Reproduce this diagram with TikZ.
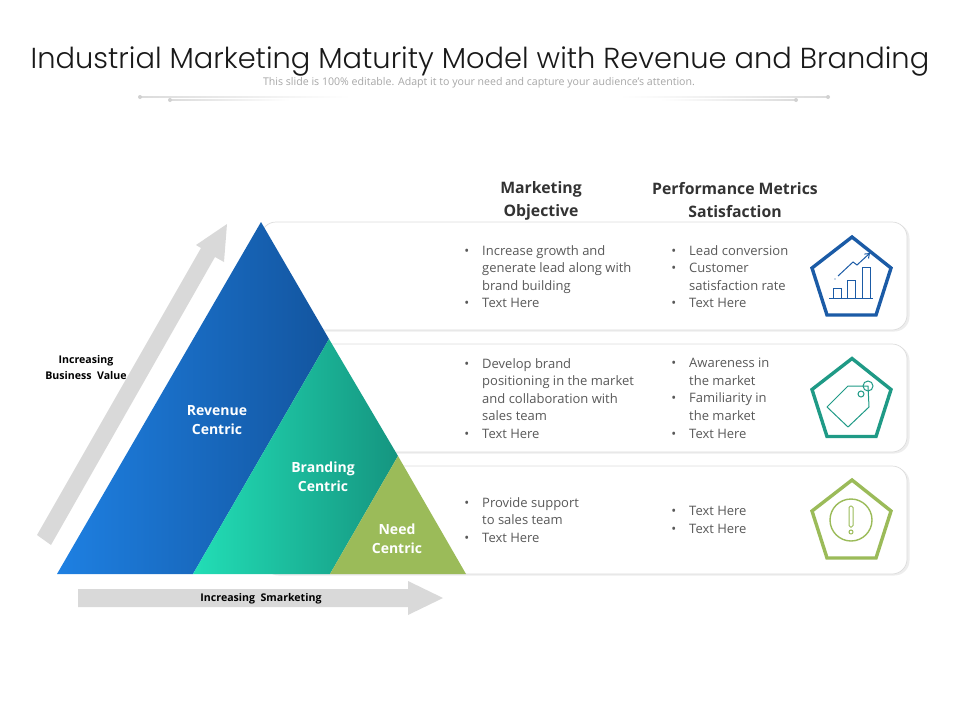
\documentclass[tikz,border=0pt]{standalone}
\usepackage{fontspec}
\setmainfont{Open Sans}
\newfontfamily\titlefont{Poppins Light}
\usetikzlibrary{shadows,arrows.meta}
\definecolor{panelline}{HTML}{DCDCDC}
\definecolor{blockgrey}{HTML}{D9D9D9}
\definecolor{bodygrey}{HTML}{595959}
\definecolor{blueL}{HTML}{1E80E2}
\definecolor{blueR}{HTML}{13559F}
\definecolor{greenL}{HTML}{22DEB6}
\definecolor{greenR}{HTML}{159580}
\definecolor{olive}{HTML}{9BBB59}
\definecolor{iconblue}{HTML}{1B5BA6}
\definecolor{icongreen}{HTML}{1F9A86}
\newcommand{\bl}{\llap{\textbullet\hspace{13pt}}}
\tikzset{
  panel/.style={draw=panelline,fill=white,line width=0.7pt,rounded corners=15pt,
    general shadow={fill=black,opacity=0.07,shadow xshift=2.5pt,shadow yshift=-1.5pt}},
  head/.style={align=center,text=black!80,inner sep=0pt,font=\fontsize{15.8}{23}\selectfont\bfseries},
  listtxt/.style={anchor=north west,align=left,text=bodygrey,inner sep=0pt,font=\fontsize{13}{17.6}\selectfont},
  tier/.style={align=center,text=white,inner sep=0pt,font=\fontsize{14}{19}\selectfont\bfseries},
  side/.style={align=center,text=black,inner sep=0pt,font=\fontsize{10.6}{16}\selectfont\bfseries},
  penta/.style={line width=3.4pt,miter limit=10},
  icon/.style={line width=1pt}
}
\begin{document}
\begin{tikzpicture}[x=1pt,y=-1pt]
\useasboundingbox (0,0) rectangle (960,720);

\node[inner sep=0pt,font=\titlefont\fontsize{28.9}{34}\selectfont,text=black!90] (title) at (480,62)
  {Industrial Marketing Maturity Model with Revenue and Branding};
\node[inner sep=0pt,text=black!35,font=\fontsize{10.6}{13}\selectfont] (subtitle) at (479,82.5)
  {This slide is 100\% editable. Adapt it to your need and capture your audience's attention.};

\shade[left color=black!14,right color=white] (140,96.6) rectangle (350,97.4);
\shade[left color=white,right color=black!14] (620,96.6) rectangle (828,97.4);
\shade[left color=black!14,right color=white] (170,99.6) rectangle (290,100.4);
\shade[left color=white,right color=black!14] (660,99.6) rectangle (796,100.4);
\fill[black!18] (140,97) circle (2pt) (828,97) circle (2pt) (170,100) circle (2pt) (796,100) circle (2pt);

\node[head] (obj) at (541,200.5) {Marketing\\Objective};
\node[head] (metric) at (735,200) {Performance Metrics\\Satisfaction};

\path[panel] (261,222) rectangle (907,330);
\path[panel] (261,344) rectangle (907,452);
\path[panel] (261,466) rectangle (907,574);

\shade[left color=blueL,right color=blueR] (57,574) -- (261,222) -- (329,339) -- (193,574) -- cycle;
\shade[left color=greenL,right color=greenR] (193,574) -- (329,339) -- (398,456) -- (330,574) -- cycle;
\fill[olive] (330,574) -- (398,456) -- (466,574) -- cycle;

\node[tier] (revenue) at (217,420) {Revenue\\Centric};
\node[tier] (branding) at (323,476.5) {Branding\\Centric};
\node[tier] (need) at (397,538.5) {Need\\Centric};

\fill[blockgrey] (37,535) -- (201,248) -- (196,245) -- (227,224) -- (224,262) -- (215,257) -- (51,545) -- cycle;
\fill[blockgrey] (78,589) -- (408,589) -- (408,581) -- (443,598) -- (408,615) -- (408,607) -- (78,607) -- cycle;
\node[side] (value) at (86,367.5) {Increasing\\Business\ \ Value};
\node[side] (smark) at (261,599) {Increasing\ \ Smarketing};

\node[listtxt] (obj1) at (482,245) {\bl Increase growth and\\generate lead along with\\brand building\\\bl Text Here};
\node[listtxt] (obj2) at (482,358) {\bl Develop brand\\positioning in the market\\and collaboration with\\sales team\\\bl Text Here};
\node[listtxt] (obj3) at (482,497) {\bl Provide support\\to sales team\\\bl Text Here};
\node[listtxt] (metric1) at (689,245) {\bl Lead conversion\\\bl Customer\\satisfaction rate\\\bl Text Here};
\node[listtxt] (metric2) at (689,358) {\bl Awareness in\\the market\\\bl Familiarity in\\the market\\\bl Text Here};
\node[listtxt] (metric3) at (689,506) {\bl Text Here\\\bl Text Here};

\foreach \dy/\col in {0/iconblue,121.5/icongreen,243/olive}
  \draw[penta,draw=\col,yshift=-\dy pt] (852,237) -- (891,268) -- (876,315) -- (827,315) -- (812,268) -- cycle;

\draw[icon,draw=iconblue] (833,298) |- (841,288) -- (841,298) (847,298) |- (855,280) -- (855,298) (862,298) |- (870,267) -- (870,298);
\draw[icon,draw=iconblue] (829,298) -- (873,298);
\draw[icon,draw=iconblue,-{Straight Barb[length=4pt,width=6pt]}] (838,276) -- (853,262) -- (857,265) -- (870,253);
\fill[iconblue] (835,279) circle (0.7pt);

\draw[icon,draw=icongreen,line join=round] (827,407) -- (848,386) -- (868,386) -- (869,407) -- (848,427) -- cycle;
\draw[icon,draw=icongreen] (861,394) circle (3pt) (868,386) circle (5pt);

\draw[icon,draw=olive,line width=1.4pt] (851,520) circle (21pt);
\draw[icon,draw=olive,rounded corners=1.5pt] (849,506) rectangle (853,527);
\draw[icon,draw=olive] (851,532) circle (2pt);
\end{tikzpicture}
\end{document}
